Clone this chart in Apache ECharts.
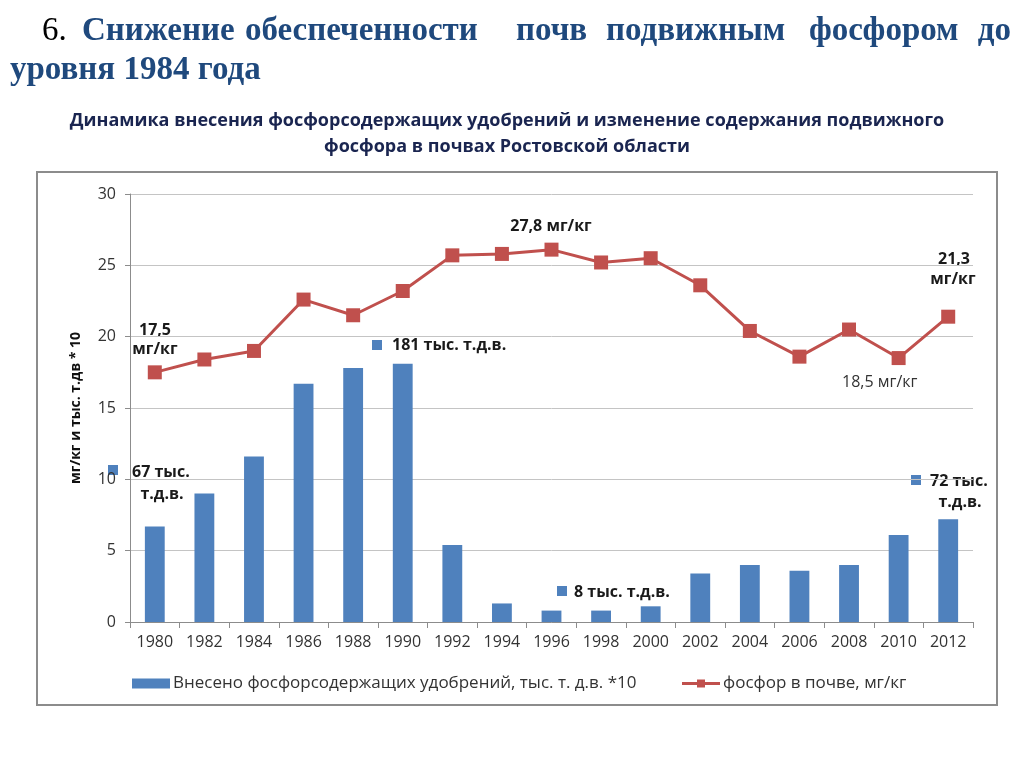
<!DOCTYPE html>
<html><head><meta charset="utf-8">
<script src="https://cdn.jsdelivr.net/npm/echarts@6/dist/echarts.min.js"></script>
<style>html,body{margin:0;padding:0;background:#fff}#c{width:1024px;height:768px}</style>
</head><body><div id="c"></div>
<script>
var years = ['1980','1982','1984','1986','1988','1990','1992','1994','1996','1998','2000','2002','2004','2006','2008','2010','2012'];
var fertilizer = [6.7, 9.0, 11.6, 16.7, 17.8, 18.1, 5.4, 1.3, 0.8, 0.8, 1.1, 3.4, 4.0, 3.6, 4.0, 6.1, 7.2];
var phosphorus = [17.5, 18.4, 19.0, 22.6, 21.5, 23.2, 25.7, 25.8, 26.1, 25.2, 25.5, 23.6, 20.4, 18.6, 20.5, 18.5, 21.4];
var yTicks = [0, 5, 10, 15, 20, 25, 30];

var BLUE = '#4F81BD', RED = '#C0504D', NAVY = '#1F497D';
var chart = echarts.init(document.getElementById('c'));

function txt(x, y, s, opt) {
  opt = opt || {};
  return { type: 'text', x: x, y: y, style: {
    text: s, fill: opt.color || '#1a1a1a',
    font: (opt.weight || 'bold') + ' ' + (opt.size || 16) + 'px ' + (opt.family || '"Open Sans", sans-serif'),
    textAlign: opt.align || 'left', textVerticalAlign: 'middle' } };
}
function sq(x, y) {
  return { type: 'rect', shape: { x: x, y: y - 5, width: 10, height: 10 }, style: { fill: BLUE } };
}
var serif = '"Liberation Serif", serif';
var T = { size: 33, family: serif, color: NAVY };

chart.setOption({
  animation: false,
  backgroundColor: '#fff',
  grid: { left: 130, right: 51, top: 194, bottom: 146, containLabel: false },
  xAxis: {
    type: 'category', data: years, boundaryGap: true,
    axisLine: { lineStyle: { color: '#8c8c8c' } },
    axisTick: { show: true, alignWithLabel: false, length: 6, lineStyle: { color: '#8c8c8c' } },
    axisLabel: { color: '#333', fontSize: 16, fontFamily: 'Open Sans, sans-serif', margin: 12 }
  },
  yAxis: {
    type: 'value', min: 0, max: 30, interval: 5,
    name: 'мг/кг и тыс. т.дв * 10', nameLocation: 'middle', nameGap: 47, nameRotate: 90,
    nameTextStyle: { fontWeight: 'bold', fontSize: 14, color: '#111', fontFamily: 'Open Sans, sans-serif' },
    axisLine: { show: true, lineStyle: { color: '#8c8c8c' } },
    axisTick: { show: true, length: 5, lineStyle: { color: '#8c8c8c' } },
    axisLabel: { color: '#333', fontSize: 16, fontFamily: 'Open Sans, sans-serif', margin: 14 },
    splitLine: { lineStyle: { color: '#c4c4c4' } }
  },
  legend: {
    top: 670, left: 127, itemGap: 44,
    textStyle: { fontSize: 17, color: '#333', fontFamily: 'Open Sans, sans-serif', padding: [0, 0, 0, -2] },
    data: [
      { name: 'Внесено фосфорсодержащих удобрений, тыс. т. д.в. *10', icon: 'rect', itemStyle: { color: BLUE } },
      { name: 'фосфор в почве, мг/кг', lineStyle: { width: 3 } }
    ],
    itemWidth: 38, itemHeight: 10
  },
  series: [
    { name: 'Внесено фосфорсодержащих удобрений, тыс. т. д.в. *10', type: 'bar', data: fertilizer,
      barWidth: '40%', itemStyle: { color: BLUE } },
    { name: 'фосфор в почве, мг/кг', type: 'line', data: phosphorus, symbol: 'rect', symbolSize: 14,
      lineStyle: { color: RED, width: 3 }, itemStyle: { color: RED } }
  ],
  graphic: [
    { type: 'rect', shape: { x: 37, y: 172, width: 960, height: 533 }, style: { fill: 'none', stroke: '#8c8c8c', lineWidth: 2 } },
    txt(42, 31, '6.', { size: 33, family: serif, color: '#000', weight: 'normal' }),
    txt(82, 31, 'Снижение', T),
    txt(245, 31, 'обеспеченности', T),
    txt(516, 31, 'почв', T),
    txt(606, 31, 'подвижным', T),
    txt(809, 31, 'фосфором', T),
    txt(1011, 31, 'до', { size: 33, family: serif, color: NAVY, align: 'right' }),
    txt(10, 70, 'уровня 1984 года', T),
    txt(507, 121, 'Динамика внесения фосфорсодержащих удобрений и изменение содержания подвижного', { size: 18, color: '#1a2550', align: 'center' }),
    txt(507, 147, 'фосфора в почвах Ростовской области', { size: 18, color: '#1a2550', align: 'center' }),
    txt(155, 330, '17,5', { align: 'center' }), txt(155, 349, 'мг/кг', { align: 'center' }),
    sq(372, 345), txt(392, 345, '181 тыс. т.д.в.'),
    txt(551, 226, '27,8 мг/кг', { align: 'center' }),
    txt(954, 259, '21,3', { align: 'center' }), txt(953, 279, 'мг/кг', { align: 'center' }),
    txt(842, 382, '18,5 мг/кг', { weight: 'normal', color: '#333' }),
    sq(108, 470), txt(132, 472, '67 тыс.'), txt(162, 494, 'т.д.в.', { align: 'center' }),
    sq(557, 591), txt(574, 592, '8 тыс. т.д.в.'),
    sq(911, 480), txt(930, 481, '72 тыс.'), txt(960, 502, 'т.д.в.', { align: 'center' })
  ]
});
</script></body></html>
